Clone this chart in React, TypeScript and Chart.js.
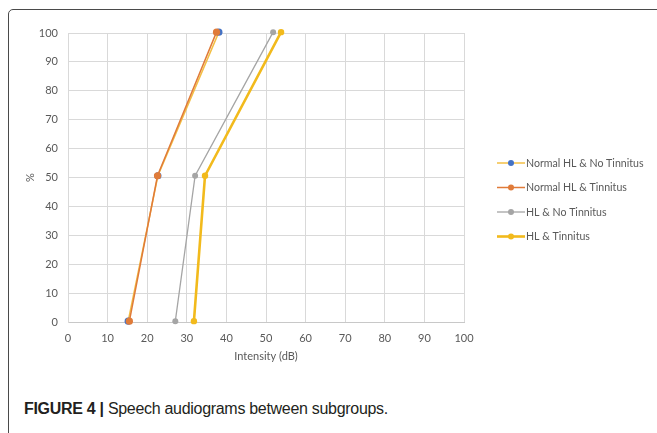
import React, { useEffect, useRef } from "react";
import { Chart, registerables } from "chart.js";

Chart.register(...registerables);

const seriesNames = [
  "Normal HL & No Tinnitus",
  "Normal HL & Tinnitus",
  "HL & No Tinnitus",
  "HL & Tinnitus",
];
const percentLevels = [0.3, 50.6, 100.3];
const normalNoTinnitusDb = [15.2, 22.7, 38.1];
const normalTinnitusDb = [15.5, 22.6, 37.5];
const hlNoTinnitusDb = [27.1, 32.1, 51.8];
const hlTinnitusDb = [31.8, 34.6, 53.8];
const xTicks = [0, 10, 20, 30, 40, 50, 60, 70, 80, 90, 100];

const lineColors = ["#F3BF45", "#E07B39", "#A5A5A5", "#F2BA1C"];
const pointColors = ["#4472C4", "#E07B39", "#A5A5A5", "#F2BA1C"];
const lineWidths = [1.5, 1.5, 1.3, 2.6];
const pointRadii = [3.6, 3.6, 3, 3.2];
const drawOrder = [4, 3, 2, 1];
const seriesValues = [normalNoTinnitusDb, normalTinnitusDb, hlNoTinnitusDb, hlTinnitusDb];

const FONT = "Lato";
const TEXT = "#595959";

const legendPlugin = {
  id: "sideLegend",
  afterDraw(chart: any) {
    const { ctx, chartArea } = chart;
    const x0 = chartArea.right + 33;
    const y0 = chartArea.top + 130;
    const gap = 24.5;
    ctx.save();
    ctx.font = `10.6px ${FONT}`;
    ctx.textBaseline = "middle";
    chart.data.datasets.forEach((ds: any, i: number) => {
      const y = y0 + i * gap;
      ctx.strokeStyle = ds.borderColor;
      ctx.lineWidth = ds.borderWidth;
      ctx.beginPath();
      ctx.moveTo(x0, y);
      ctx.lineTo(x0 + 28, y);
      ctx.stroke();
      ctx.fillStyle = ds.pointBackgroundColor;
      ctx.beginPath();
      ctx.arc(x0 + 14, y, 3, 0, Math.PI * 2);
      ctx.fill();
      ctx.fillStyle = TEXT;
      ctx.fillText(ds.label, x0 + 29, y + 0.5);
    });
    ctx.restore();
  },
};

export default function App() {
  const ref = useRef<HTMLCanvasElement | null>(null);

  useEffect(() => {
    if (!ref.current) return;
    const chart = new Chart(ref.current, {
      type: "line",
      data: {
        datasets: seriesNames.map((name, i) => ({
          label: name,
          data: seriesValues[i].map((v, j) => ({ x: v, y: percentLevels[j] })),
          borderColor: lineColors[i],
          backgroundColor: pointColors[i],
          pointBackgroundColor: pointColors[i],
          pointBorderColor: pointColors[i],
          pointBorderWidth: 0,
          borderWidth: lineWidths[i],
          pointRadius: pointRadii[i],
          order: drawOrder[i],
          tension: 0,
          fill: false,
          clip: false,
        })),
      },
      options: {
        animation: false,
        responsive: false,
        events: [],
        layout: { padding: { top: 33, right: 193, left: 0, bottom: 0 } },
        plugins: { legend: { display: false }, tooltip: { enabled: false } },
        scales: {
          x: {
            type: "linear",
            min: 0,
            max: 100,
            afterBuildTicks: (s: any) => {
              s.ticks = xTicks.map((v) => ({ value: v }));
            },
            afterFit: (s: any) => {
              s.height = 58;
            },
            grid: { color: "#D9D9D9", drawTicks: false, lineWidth: 1 },
            border: { color: "#C8C8C8" },
            ticks: { color: TEXT, font: { family: FONT, size: 11 }, padding: 10 },
            title: {
              display: true,
              text: "Intensity (dB)",
              color: TEXT,
              font: { family: FONT, size: 11 },
              padding: { top: 0, bottom: 17 },
            },
          },
          y: {
            type: "linear",
            min: 0,
            max: 100,
            afterBuildTicks: (s: any) => {
              s.ticks = xTicks.map((v) => ({ value: v }));
            },
            afterFit: (s: any) => {
              s.width = 68;
            },
            grid: { color: "#D9D9D9", drawTicks: false, lineWidth: 1 },
            border: { color: "#D9D9D9" },
            ticks: { color: TEXT, font: { family: FONT, size: 11 }, padding: 10 },
            title: {
              display: true,
              text: "%",
              color: TEXT,
              font: { family: FONT, size: 11 },
              padding: { top: 24, bottom: 0 },
            },
          },
        },
      },
      plugins: [legendPlugin],
    } as any);
    return () => chart.destroy();
  }, []);

  return (
    <div
      style={{
        position: "fixed",
        left: 0,
        top: 0,
        width: 657,
        height: 433,
        overflow: "hidden",
        background: "#fff",
      }}
    >
      <div
        style={{
          position: "absolute",
          left: 8,
          top: 9,
          width: 720,
          height: 520,
          border: "1.5px solid #4a4a4a",
          borderRadius: 5,
        }}
      />
      <canvas
        ref={ref}
        width={657}
        height={380}
        style={{ position: "absolute", left: 0, top: 0, width: 657, height: 380 }}
      />
      <div
        style={{
          position: "absolute",
          left: 24,
          top: 400,
          fontFamily: '"Liberation Sans", Arial, sans-serif',
          fontSize: 16,
          color: "#231F20",
          whiteSpace: "nowrap",
          letterSpacing: -0.3,
        }}
      >
        <b>FIGURE 4</b> <b>|</b> Speech audiograms between subgroups.
      </div>
    </div>
  );
}
